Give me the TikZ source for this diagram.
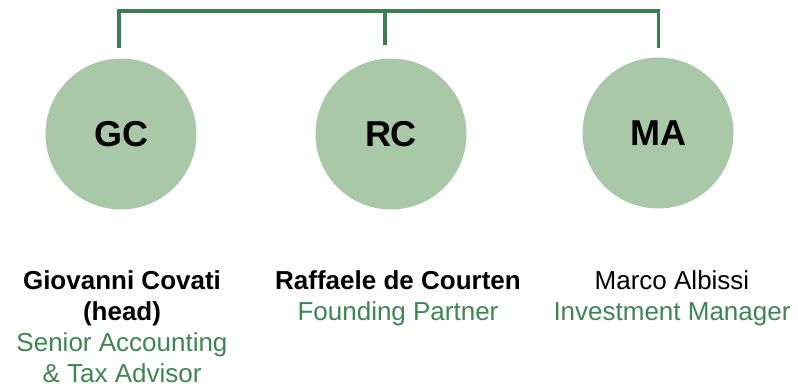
\documentclass[tikz,border=0pt]{standalone}
\usepackage{fontspec}
\setmainfont{Liberation Sans}
\definecolor{linegreen}{HTML}{3A7F4F}
\definecolor{circfill}{HTML}{A9C8A7}
\definecolor{titlegreen}{HTML}{3D8553}
\begin{document}
\begin{tikzpicture}[x=1pt,y=1pt,
  person/.style={circle,fill=circfill,draw=none,minimum size=151pt,inner sep=0pt,
    font=\fontsize{36}{40}\selectfont\bfseries},
  pname/.style={anchor=base,inner sep=0pt,font=\fontsize{26}{31}\selectfont\bfseries},
  pnamereg/.style={anchor=base,inner sep=0pt,font=\fontsize{26}{31}\selectfont},
  ptitle/.style={anchor=base,inner sep=0pt,text=titlegreen,font=\fontsize{26}{31}\selectfont},
  bracket/.style={draw=linegreen,line width=3.5pt}]
\useasboundingbox (0,0) rectangle (798,-388);
\node[person] (GC) at (121,-134) {GC};
\node[person] (RC) at (391,-134) {RC};
\node[person] (MA) at (658,-133) {MA};
\coordinate (gcT) at ([xshift=-2pt,yshift=10pt]GC.north);
\coordinate (rcT) at ([xshift=-6pt,yshift=13pt]RC.north);
\coordinate (maT) at ([xshift=0.5pt,yshift=9pt]MA.north);
\coordinate (top) at (0,-11);
\draw[bracket] (gcT) |- (top -| rcT) -| (maT);
\draw[bracket] (rcT) -- (top -| rcT);
\node[pname] (gc1) at (122,-289) {Giovanni Covati};
\node[pname] (gc2) at (122,-320) {(head)};
\node[ptitle] (gc3) at (122,-351.5) {Senior Accounting};
\node[ptitle] (gc4) at (122,-382.5) {\& Tax Advisor};
\node[pname] (rc1) at (398,-289) {Raffaele de Courten};
\node[ptitle] (rc2) at (398,-320) {Founding Partner};
\node[pnamereg] (ma1) at (672,-289) {Marco Albissi};
\node[ptitle] (ma2) at (672,-320) {Investment Manager};
\end{tikzpicture}
\end{document}
